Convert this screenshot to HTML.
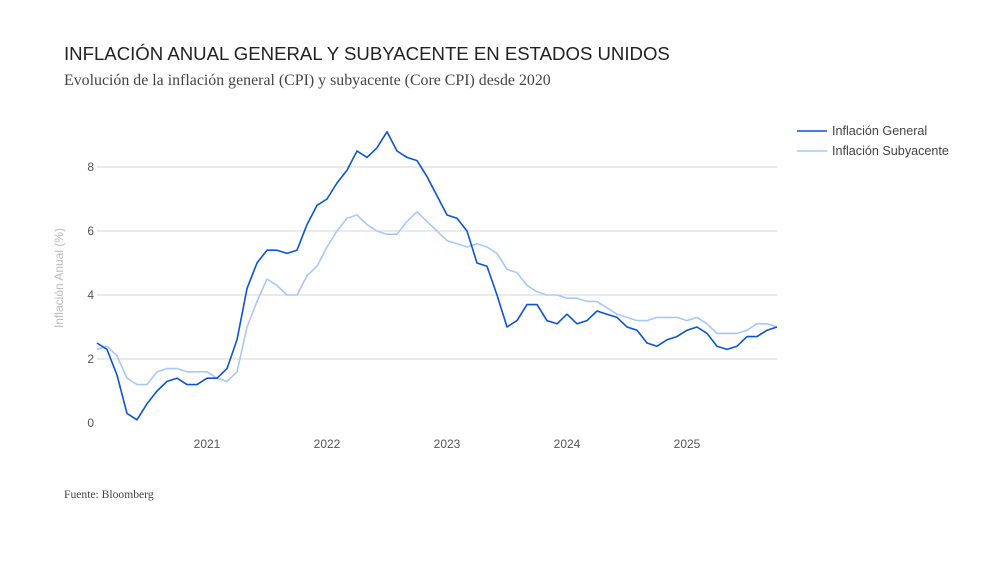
<!DOCTYPE html>
<html><head><meta charset="utf-8">
<style>
body{margin:0;background:#fff;width:1005px;height:575px;overflow:hidden;font-family:"Liberation Sans",sans-serif;}
svg{display:block}
</style></head>
<body>
<svg id="chart" width="1005" height="575">
<text x="64" y="60" font-size="18.6" fill="#222">INFLACIÓN ANUAL GENERAL Y SUBYACENTE EN ESTADOS UNIDOS</text>
<text x="64" y="85" font-size="15.9" fill="#444" font-family="Liberation Serif, serif">Evolución de la inflación general (CPI) y subyacente (Core CPI) desde 2020</text>
<text x="64" y="498" font-size="11.6" fill="#444" font-family="Liberation Serif, serif">Fuente: Bloomberg</text>
<text transform="translate(63,278) rotate(-90)" text-anchor="middle" font-size="12" fill="#bbb">Inflación Anual (%)</text>
<g id="grid"></g><g id="lines"></g>
<g>
<line x1="797" y1="131" x2="827" y2="131" stroke="#0b54d4" stroke-width="1.6"/>
<text x="832" y="135" font-size="12.6" fill="#444">Inflación General</text>
<line x1="797" y1="151" x2="827" y2="151" stroke="#a6c8fa" stroke-width="1.6"/>
<text x="832" y="155" font-size="12.6" fill="#444">Inflación Subyacente</text>
</g>
</svg>
<script>
const startYear = 2020;
const general = [2.5,2.3,1.5,0.3,0.1,0.6,1.0,1.3,1.4,1.2,1.2,1.4,
1.4,1.7,2.6,4.2,5.0,5.4,5.4,5.3,5.4,6.2,6.8,7.0,
7.5,7.9,8.5,8.3,8.6,9.1,8.5,8.3,8.2,7.7,7.1,6.5,
6.4,6.0,5.0,4.9,4.0,3.0,3.2,3.7,3.7,3.2,3.1,3.4,
3.1,3.2,3.5,3.4,3.3,3.0,2.9,2.5,2.4,2.6,2.7,2.9,
3.0,2.8,2.4,2.3,2.4,2.7,2.7,2.9,3.0];
const core = [2.3,2.4,2.1,1.4,1.2,1.2,1.6,1.7,1.7,1.6,1.6,1.6,
1.4,1.3,1.6,3.0,3.8,4.5,4.3,4.0,4.0,4.6,4.9,5.5,
6.0,6.4,6.5,6.2,6.0,5.9,5.9,6.3,6.6,6.3,6.0,5.7,
5.6,5.5,5.6,5.5,5.3,4.8,4.7,4.3,4.1,4.0,4.0,3.9,
3.9,3.8,3.8,3.6,3.4,3.3,3.2,3.2,3.3,3.3,3.3,3.2,
3.3,3.1,2.8,2.8,2.8,2.9,3.1,3.1,3.0];
const yTicks = [0,2,4,6,8];
const xTicks = [2021,2022,2023,2024,2025];
const NS='http://www.w3.org/2000/svg';
const x = i => 97 + i*10;
const xYear = yr => 97 + ((yr-startYear)*12 - 1)*10;
const y = v => 423 - v*32;
const grid=document.getElementById('grid'), lines=document.getElementById('lines');
yTicks.forEach(t=>{
  if(t>0){
    const l=document.createElementNS(NS,'line');
    l.setAttribute('x1',97);l.setAttribute('x2',777);l.setAttribute('y1',y(t));l.setAttribute('y2',y(t));
    l.setAttribute('stroke','#d6d6d6');l.setAttribute('stroke-width','1');
    
    
    grid.appendChild(l);
  }
  const tx=document.createElementNS(NS,'text');
  tx.setAttribute('x',94);tx.setAttribute('y',y(t)+4);tx.setAttribute('text-anchor','end');
  tx.setAttribute('font-size','12');tx.setAttribute('fill','#555');tx.textContent=t;
  
  
  grid.appendChild(tx);
});
xTicks.forEach(yr=>{
  const tx=document.createElementNS(NS,'text');
  tx.setAttribute('x',xYear(yr));tx.setAttribute('y',448);tx.setAttribute('text-anchor','middle');
  tx.setAttribute('font-size','12');tx.setAttribute('fill','#555');tx.textContent=yr;
  
  
  grid.appendChild(tx);
});
function drawLine(arr,color,name){
  const p=document.createElementNS(NS,'polyline');
  p.setAttribute('points',arr.map((v,i)=>x(i)+','+y(v)).join(' '));
  p.setAttribute('fill','none');p.setAttribute('stroke',color);p.setAttribute('stroke-width','1.6');
  p.setAttribute('stroke-linejoin','round');
  
  
  lines.appendChild(p);
}
drawLine(core,'#a6c8fa','core-inflation-line');
drawLine(general,'#0b54d4','general-inflation-line');
</script>
</body></html>
